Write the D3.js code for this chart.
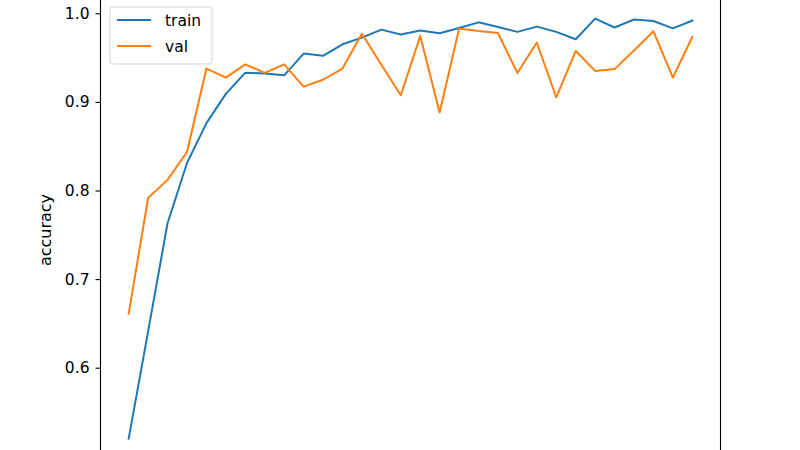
<!DOCTYPE html>
<html>
<head>
<meta charset="utf-8">
<script src="https://cdn.jsdelivr.net/npm/d3@7"></script>
<style>
  body { margin: 0; background: #fff; }
  svg { display: block; font-family: "DejaVu Sans", sans-serif; }
</style>
</head>
<body>
<svg id="chart" width="800" height="450"></svg>
<script>
// accuracy per epoch
const train = [0.520, 0.641, 0.763, 0.831, 0.876, 0.909, 0.933, 0.932, 0.930, 0.9545,
  0.952, 0.965, 0.9726, 0.9816, 0.976, 0.9805, 0.9774, 0.9834, 0.9898, 0.9846,
  0.979, 0.985, 0.979, 0.9707, 0.994, 0.984, 0.993, 0.9913, 0.983, 0.9917];
const val = [0.661, 0.7915, 0.812, 0.8435, 0.9376, 0.9274, 0.9424, 0.9327, 0.9424, 0.9173,
  0.925, 0.9376, 0.977, 0.942, 0.9075, 0.9744, 0.888, 0.9827, 0.980, 0.9778,
  0.9327, 0.967, 0.905, 0.9575, 0.935, 0.937, 0.958, 0.9797, 0.9274, 0.9733];
const yTicks = [0.6, 0.7, 0.8, 0.9, 1.0];
const seriesNames = ["train", "val"];
const colors = ["#1f77b4", "#ff7f0e"];

const svg = d3.select("#chart");
const left = 100.5, right = 720.5;
const fs = 15.5;

const n = train.length;
const pad = (n - 1) * 0.05;
const x = d3.scaleLinear().domain([-pad, n - 1 + pad]).range([left, right]);

const all = train.concat(val);
const lo = d3.min(all), hi = d3.max(all);
const m = (hi - lo) * 0.05;
// pixel mapping of ticks (0.6 -> 367.7, 1.0 -> 13.3)
const y = d3.scaleLinear().domain([0.6, 1.0]).range([367.7, 13.3]);

// axes frame
svg.append("rect")
  .attr("x", left).attr("y", y(hi + m))
  .attr("width", right - left).attr("height", y(lo - m) - y(hi + m))
  .attr("fill", "none").attr("stroke", "#000").attr("stroke-width", 1.1);

// lines
const line = d3.line().x((d, i) => x(i)).y(d => y(d));
[train, val].forEach((s, k) => {
  svg.append("path")
    .datum(s)
    .attr("d", line)
    .attr("fill", "none")
    .attr("stroke", colors[k])
    .attr("stroke-width", 2)
    .attr("stroke-linejoin", "round")
    .attr("stroke-linecap", "square");
});

// y axis
const yAxis = d3.axisLeft(y).tickValues(yTicks).tickFormat(d3.format(".1f"))
  .tickSize(5).tickPadding(6);
const ga = svg.append("g").attr("transform", `translate(${left},0)`).call(yAxis);
ga.select(".domain").remove();
ga.selectAll(".tick line").attr("stroke", "#000").attr("stroke-width", 1.1);
ga.selectAll(".tick text").attr("font-size", fs).attr("fill", "#000")
  .attr("font-family", "DejaVu Sans, sans-serif");

svg.append("text")
  .attr("transform", "translate(51,230) rotate(-90)")
  .attr("text-anchor", "middle")
  .attr("font-size", 16)
  .text("accuracy");

// legend
const lg = svg.append("g");
lg.append("rect")
  .attr("x", 110).attr("y", 7).attr("width", 102).attr("height", 57)
  .attr("rx", 3)
  .attr("fill", "#fff").attr("fill-opacity", 0.8)
  .attr("stroke", "#d5d5d5");
seriesNames.forEach((name, k) => {
  const ly = 20 + k * 26;
  lg.append("line")
    .attr("x1", 117).attr("x2", 151).attr("y1", ly).attr("y2", ly)
    .attr("stroke", colors[k]).attr("stroke-width", 2);
  lg.append("text")
    .attr("x", 165).attr("y", ly + 5.5)
    .attr("font-size", fs)
    .text(name);
});
</script>
</body>
</html>
